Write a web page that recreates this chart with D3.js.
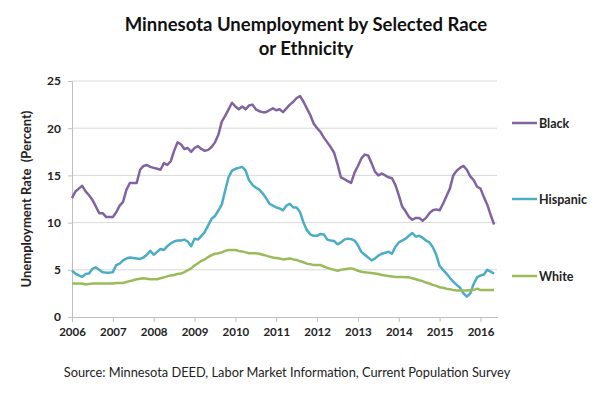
<!DOCTYPE html>
<html><head><meta charset="utf-8">
<script src="https://cdn.jsdelivr.net/npm/d3@7"></script>
<style>body{margin:0;background:#fff}svg{display:block}text{font-family:Lato,"Open Sans",sans-serif}</style>
</head><body>
<svg id="c" width="609" height="405"></svg>
<script>
const titleLines = ["Minnesota Unemployment by Selected Race", "or Ethnicity"];
const yTitle = "Unemployment Rate  (Percent)";
const source = "Source: Minnesota DEED, Labor Market Information, Current Population Survey";
const yearTicks = [2006,2007,2008,2009,2010,2011,2012,2013,2014,2015,2016];
const yTicks = [0,5,10,15,20,25];
const startYear = 2006; // monthly data from Jan 2006
const seriesNames = ["Black","Hispanic","White"];
const seriesColors = ["#8064A2","#4BACC6","#9BBB59"];

const black = [12.6,13.3,13.6,13.9,13.3,12.9,12.4,11.7,11.0,11.0,10.6,10.6,
10.6,11.1,11.8,12.2,13.5,14.2,14.2,14.2,15.6,16.0,16.1,15.9,
15.8,15.7,15.6,16.3,16.1,16.5,17.6,18.5,18.3,17.8,17.9,17.5,
17.9,18.1,17.8,17.6,17.7,18.0,18.5,19.3,20.7,21.3,22.0,22.7,
22.3,22.0,22.3,22.0,22.4,22.5,22.0,21.8,21.7,21.7,21.9,22.1,
21.9,22.0,21.7,22.1,22.5,22.8,23.2,23.4,22.8,22.1,21.4,20.5,
20.0,19.6,19.0,18.5,18.0,17.4,16.2,14.8,14.6,14.4,14.2,15.3,
16.0,16.8,17.2,17.1,16.3,15.4,15.0,15.2,15.0,14.8,14.7,14.0,
12.9,11.7,11.2,10.6,10.3,10.5,10.5,10.2,10.5,11.0,11.3,11.4,
11.3,12.0,12.8,13.6,15.0,15.5,15.8,16.0,15.6,14.9,14.5,13.8,
13.6,12.7,11.9,10.8,9.8];
const hispanic = [4.9,4.6,4.4,4.25,4.55,4.6,5.1,5.25,5.0,4.75,4.7,4.7,
4.75,5.5,5.65,6.0,6.2,6.3,6.25,6.2,6.15,6.3,6.6,7.0,
6.6,6.9,7.2,7.1,7.5,7.8,8.0,8.1,8.1,8.2,8.0,7.5,
8.3,8.2,8.6,9.0,9.7,10.4,10.7,11.3,11.9,13.4,14.8,15.5,
15.7,15.8,15.9,15.5,14.5,14.0,13.7,13.5,13.1,12.6,12.0,11.8,
11.6,11.5,11.3,11.8,12.0,11.6,11.6,11.1,10.0,9.2,8.75,8.6,
8.6,8.8,8.75,8.2,8.1,8.05,7.7,7.9,8.2,8.3,8.25,8.1,
7.6,6.9,6.6,6.3,6.0,6.2,6.5,6.7,6.8,6.9,6.7,7.45,
7.9,8.1,8.3,8.6,8.9,8.5,8.6,8.4,8.1,7.9,7.4,6.6,
5.4,5.0,4.6,4.15,3.75,3.4,3.1,2.5,2.15,2.5,3.5,4.2,
4.4,4.5,5.0,4.8,4.6];
const white = [3.55,3.55,3.55,3.55,3.45,3.5,3.55,3.55,3.55,3.55,3.55,3.55,
3.55,3.6,3.6,3.6,3.7,3.8,3.9,4.0,4.05,4.1,4.05,4.0,
4.0,4.0,4.1,4.2,4.3,4.4,4.45,4.55,4.6,4.75,4.95,5.15,
5.45,5.7,5.95,6.1,6.35,6.55,6.7,6.75,6.85,7.0,7.1,7.1,
7.1,7.0,6.95,6.85,6.75,6.75,6.75,6.7,6.6,6.5,6.4,6.3,
6.25,6.2,6.1,6.15,6.2,6.1,6.05,5.9,5.8,5.65,5.6,5.5,
5.5,5.5,5.35,5.2,5.1,5.0,4.9,5.0,5.05,5.1,5.15,5.05,
4.9,4.8,4.75,4.7,4.65,4.6,4.55,4.45,4.4,4.35,4.3,4.25,
4.25,4.25,4.2,4.2,4.1,4.0,3.9,3.8,3.65,3.55,3.4,3.3,
3.15,3.1,3.0,2.95,2.85,2.8,2.8,2.8,2.8,2.85,2.85,3.0,
2.85,2.85,2.85,2.85,2.85];
const seriesValues = [black, hispanic, white];

const svg = d3.select("#c");
const L = 72, R = 497, T = 81, B = 317;
const x = d3.scaleLinear().domain([startYear, startYear + 10 + 5/12]).range([L, R + 0.5]);
const y = d3.scaleLinear().domain([0, 25]).range([B, T]);

// title
svg.append("g").selectAll("text").data(titleLines).join("text")
  .attr("x", 306).attr("y", (d,i) => 31 + i*24)
  .attr("text-anchor", "middle").attr("font-size", 18.5).attr("font-weight", "bold").attr("fill", "#111")
  .text(d => d);

// gridlines
svg.append("g").selectAll("line").data(yTicks.filter(v => v > 0)).join("line")
  .attr("x1", L).attr("x2", R).attr("y1", d => y(d)).attr("y2", d => y(d))
  .attr("stroke", "#d9d9d9").attr("stroke-width", 1);

// y axis
const ya = svg.append("g").attr("transform", `translate(${L},0)`)
  .call(d3.axisLeft(y).tickValues(yTicks).tickSize(4).tickPadding(7));
ya.select(".domain").attr("stroke", "#bfbfbf");
ya.selectAll(".tick line").attr("stroke", "#bfbfbf");
ya.selectAll("text").attr("font-size", 12).attr("font-weight", "bold").attr("fill", "#222")
  .attr("font-family", "Lato, sans-serif");

// x axis
const xa = svg.append("g").attr("transform", `translate(0,${B})`)
  .call(d3.axisBottom(x).tickValues(yearTicks).tickFormat(d3.format("d")).tickSize(5).tickSizeOuter(0).tickPadding(6));
xa.select(".domain").attr("stroke", "#bfbfbf");
xa.selectAll(".tick line").attr("stroke", "#bfbfbf");
xa.selectAll("text").attr("font-size", 11.5).attr("font-weight", "bold").attr("fill", "#222")
  .attr("font-family", "Lato, sans-serif");

// y title
svg.append("text").attr("transform", "translate(31,199) rotate(-90)")
  .attr("text-anchor", "middle").attr("font-size", 13).attr("font-weight", "bold").attr("fill", "#222")
  .attr("xml:space", "preserve").style("white-space", "pre")
  .text(yTitle);

// lines
const line = d3.line().x((d,i) => x(startYear + i/12)).y(d => y(d));
svg.append("g").selectAll("path").data(seriesValues).join("path")
  .attr("d", d => line(d)).attr("fill", "none")
  .attr("stroke", (d,i) => seriesColors[i]).attr("stroke-width", 2.5)
  .attr("stroke-linejoin", "round");

// legend
const legY = [123, 199, 276];
const lg = svg.append("g").selectAll("g").data(seriesNames).join("g")
  .attr("transform", (d,i) => `translate(512,${legY[i]})`);
lg.append("line").attr("x1", 0).attr("x2", 25).attr("y1", 0).attr("y2", 0)
  .attr("stroke", (d,i) => seriesColors[i]).attr("stroke-width", 2.5);
lg.append("text").attr("x", 27).attr("y", 4.5).attr("font-size", 12.5).attr("font-weight", "bold").attr("fill", "#222")
  .text(d => d);

// source
svg.append("text").attr("x", 287).attr("y", 377).attr("text-anchor", "middle")
  .attr("font-size", 12.8).attr("fill", "#222").text(source);
</script>
</body></html>
